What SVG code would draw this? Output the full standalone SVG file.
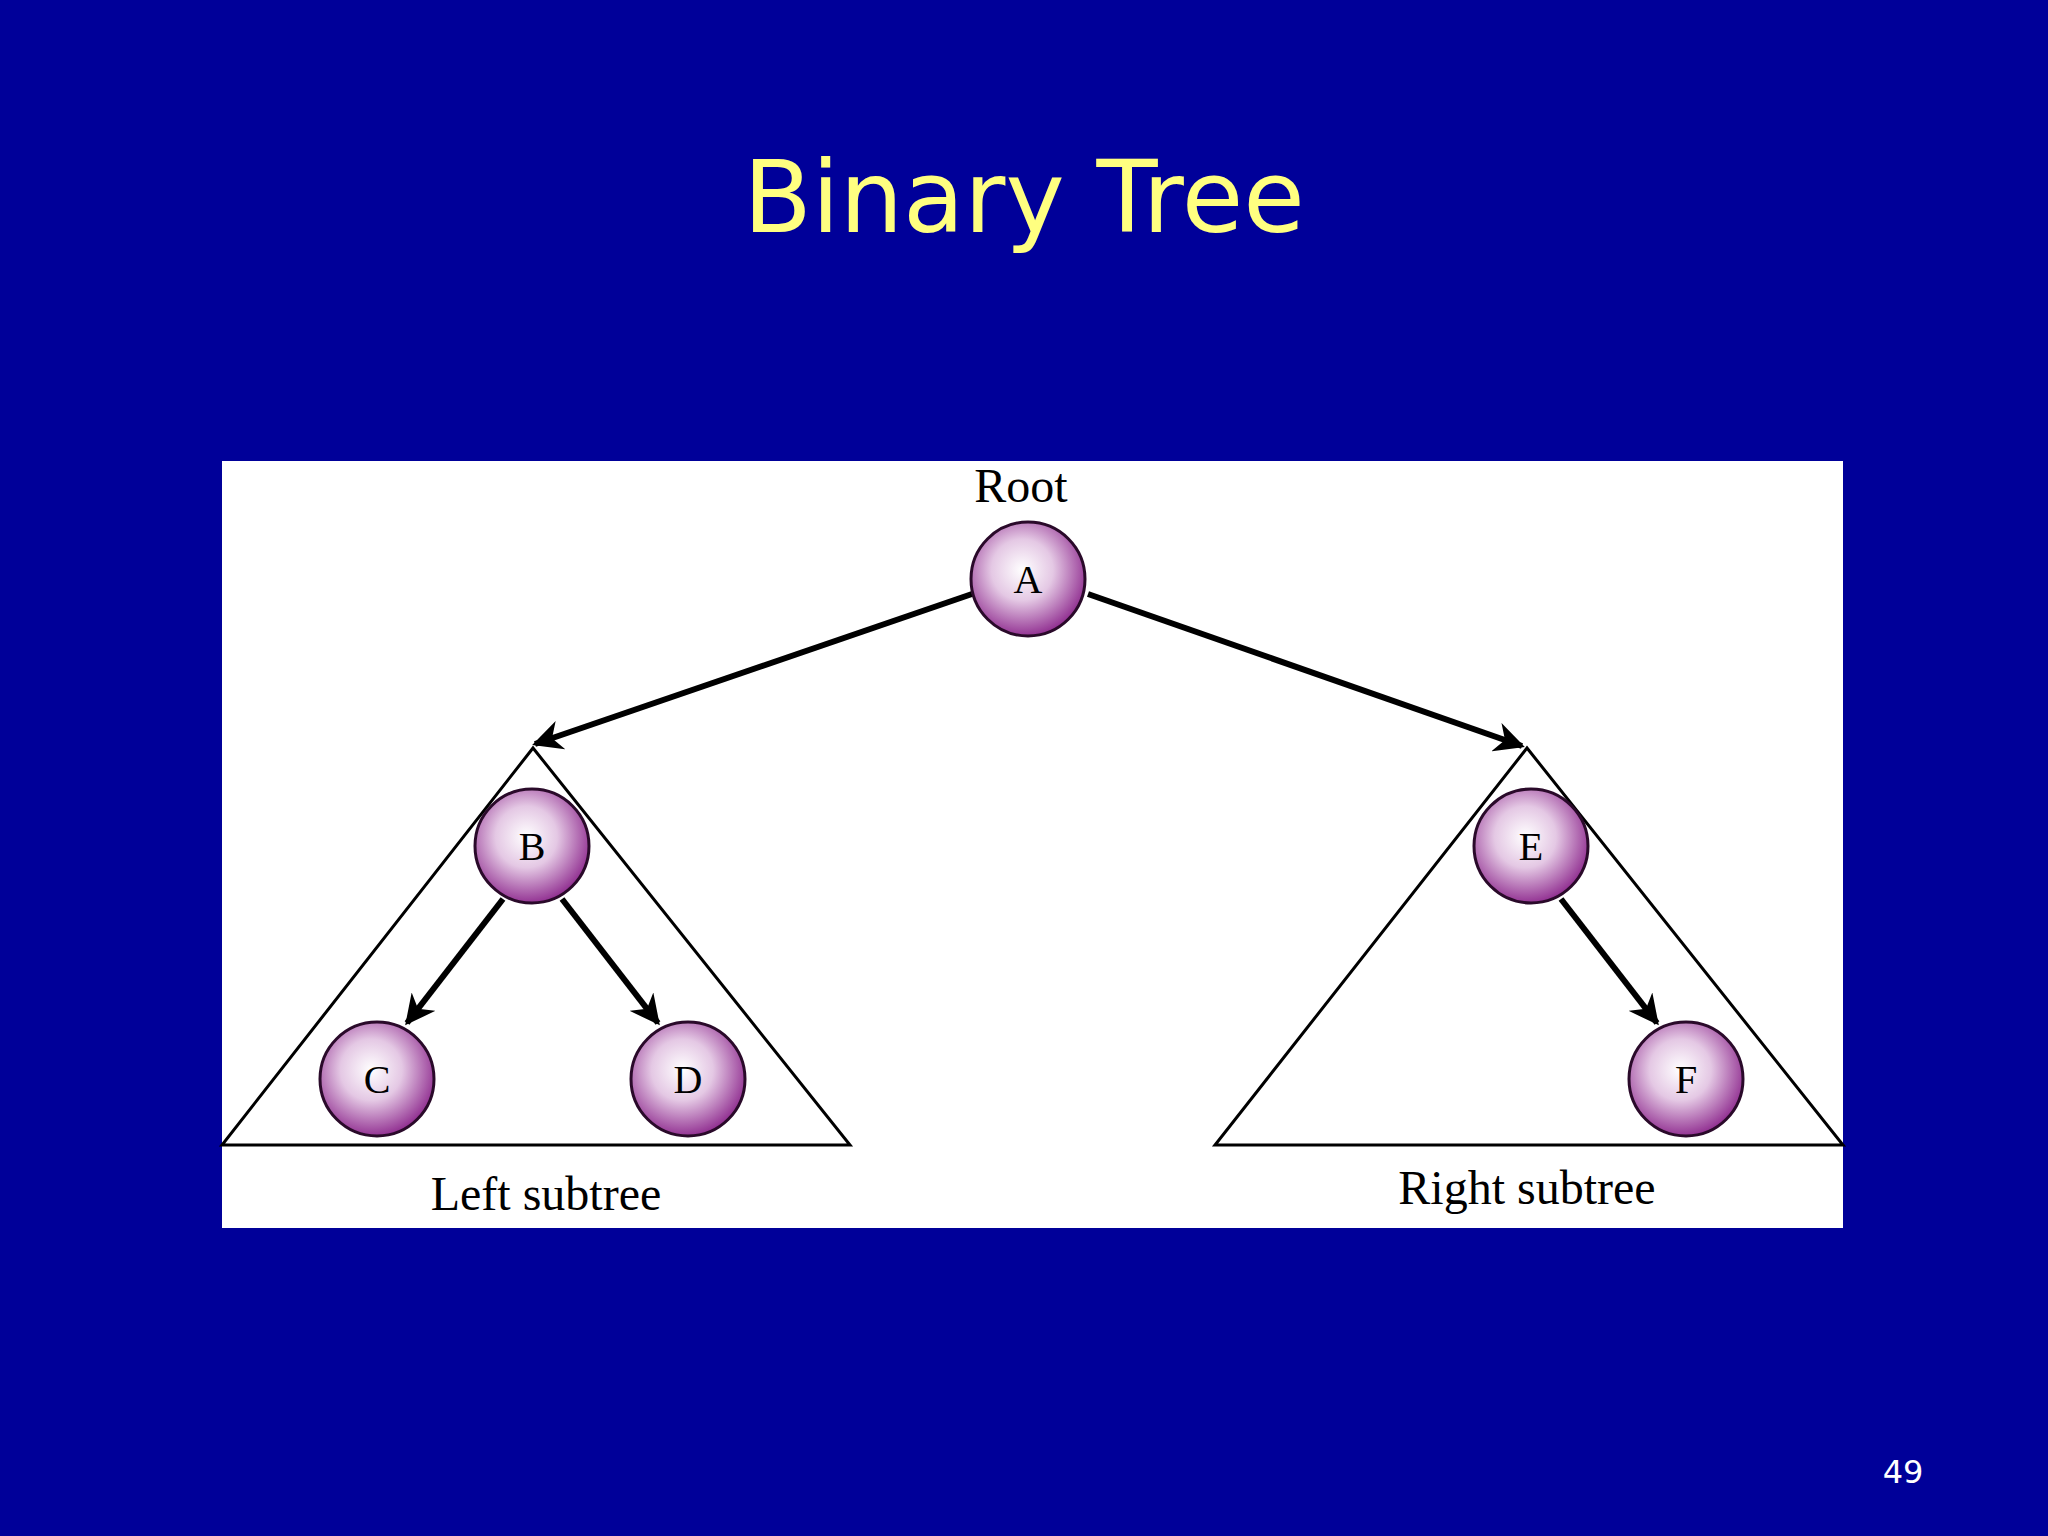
<svg xmlns="http://www.w3.org/2000/svg" width="2048" height="1536" viewBox="0 0 2048 1536">
<style>
.lbl{font-family:"Liberation Serif",serif;font-size:48px;fill:#000;text-anchor:middle}
.nl{font-family:"Liberation Serif",serif;font-size:40px;fill:#000;text-anchor:middle}
.node{fill:url(#g);stroke:#2a0a2a;stroke-width:3}
.edge{stroke:#000;stroke-width:6;fill:none;marker-end:url(#ah)}
.tri{fill:none;stroke:#000;stroke-width:3}
</style>
<defs>
<radialGradient id="g" cx="0.45" cy="0.42" r="0.6">
<stop offset="0" stop-color="#ffffff"/>
<stop offset="0.45" stop-color="#e4c8e4"/>
<stop offset="1" stop-color="#8e2a8e"/>
</radialGradient>
<marker id="ah" viewBox="0 0 10 10" refX="9" refY="5" markerWidth="5" markerHeight="5" orient="auto" markerUnits="strokeWidth">
<path d="M0,0 L10,5 L0,10 L3,5 z" fill="#000"/>
</marker>
</defs>
<rect width="2048" height="1536" fill="#000099"/>
<text x="1024" y="232" font-family="DejaVu Sans,Verdana,sans-serif" font-size="100" fill="#ffff80" text-anchor="middle">Binary Tree</text>
<text x="1903" y="1483" font-family="DejaVu Sans,Verdana,sans-serif" font-size="32" fill="#ffffff" text-anchor="middle">49</text>
<rect x="222" y="461" width="1621" height="767" fill="#ffffff"/>
<polygon class="tri" points="533,748 222,1145 850,1145"/>
<polygon class="tri" points="1527,748 1215,1145 1843,1145"/>
<text class="lbl" x="1021" y="502">Root</text>
<text class="lbl" x="546" y="1210">Left subtree</text>
<text class="lbl" x="1527" y="1204">Right subtree</text>
<g id="edges">
<line class="edge" x1="972" y1="594" x2="535" y2="744"/>
<line class="edge" x1="1088" y1="594" x2="1522" y2="746"/>
<line class="edge" x1="503" y1="899" x2="407" y2="1023"/>
<line class="edge" x1="562" y1="899" x2="658" y2="1023"/>
<line class="edge" x1="1561" y1="899" x2="1657" y2="1023"/>
</g>
<g id="A"><circle class="node" cx="1028" cy="579" r="57"/><text class="nl" x="1028" y="593">A</text></g>
<g id="B"><circle class="node" cx="532" cy="846" r="57"/><text class="nl" x="532" y="860">B</text></g>
<g id="C"><circle class="node" cx="377" cy="1079" r="57"/><text class="nl" x="377" y="1093">C</text></g>
<g id="D"><circle class="node" cx="688" cy="1079" r="57"/><text class="nl" x="688" y="1093">D</text></g>
<g id="E"><circle class="node" cx="1531" cy="846" r="57"/><text class="nl" x="1531" y="860">E</text></g>
<g id="F"><circle class="node" cx="1686" cy="1079" r="57"/><text class="nl" x="1686" y="1093">F</text></g>
</svg>
